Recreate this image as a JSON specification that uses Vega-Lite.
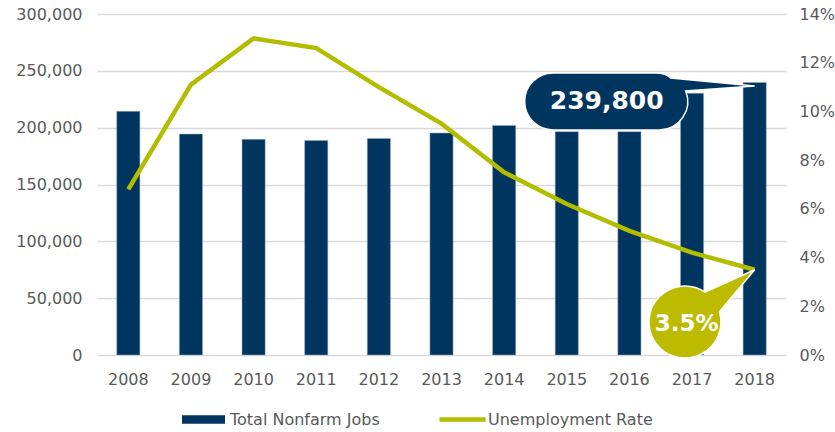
{
  "$schema": "https://vega.github.io/schema/vega-lite/v6.json",
  "width": 689,
  "height": 341,
  "autosize": "none",
  "padding": {"left": 97, "top": 14, "right": 49, "bottom": 77},
  "background": "#ffffff",
  "config": {
    "font": "DejaVu Sans",
    "view": {"stroke": null},
    "axis": {"labelFont": "DejaVu Sans", "labelColor": "#595959", "labelFontSize": 16, "title": null, "domain": false, "ticks": false},
    "legend": {"labelFont": "DejaVu Sans", "labelColor": "#595959", "labelFontSize": 16, "labelLimit": 400}
  },
  "data": {
    "values": [
      {"year": "2008", "jobs": 214400, "rate": 6.8},
      {"year": "2009", "jobs": 194400, "rate": 11.1},
      {"year": "2010", "jobs": 189700, "rate": 13.0},
      {"year": "2011", "jobs": 188800, "rate": 12.6},
      {"year": "2012", "jobs": 190500, "rate": 11.0},
      {"year": "2013", "jobs": 195300, "rate": 9.5},
      {"year": "2014", "jobs": 202000, "rate": 7.5},
      {"year": "2015", "jobs": 196500, "rate": 6.2},
      {"year": "2016", "jobs": 196500, "rate": 5.1},
      {"year": "2017", "jobs": 230200, "rate": 4.2},
      {"year": "2018", "jobs": 239800, "rate": 3.5}
    ]
  },
  "encoding": {
    "x": {
      "field": "year", "type": "ordinal",
      "scale": {"paddingInner": 0.63, "paddingOuter": 0.315},
      "axis": {"labelAngle": 0, "labelPadding": 16, "grid": false}
    }
  },
  "layer": [
    {
      "layer": [
        {
          "mark": {"type": "bar", "stroke": "#9fb0c4", "strokeWidth": 0.5},
          "encoding": {
            "y": {
              "field": "jobs", "type": "quantitative",
              "scale": {"domain": [0, 300000], "nice": false},
              "axis": {"orient": "left", "values": [0, 50000, 100000, 150000, 200000, 250000, 300000], "format": ",d", "labelPadding": 15, "grid": true, "gridColor": "#d9d9d9", "gridWidth": 1.5}
            },
            "color": {
              "datum": "Total Nonfarm Jobs", "type": "nominal",
              "scale": {"range": ["#00355f"]},
              "legend": {"title": null, "orient": "none", "legendX": 85, "legendY": 384, "symbolType": "M-1,-0.2H1V0.2H-1Z", "symbolSize": 1849, "symbolStrokeWidth": 0, "labelOffset": 5}
            }
          }
        },
        {
          "data": {"values": [{"year": "2018", "jobs": 239800, "label": "239,800"}]},
          "mark": {
            "type": "point", "filled": true, "opacity": 1, "size": 4, "yOffset": 3.5,
            "fill": "#00355f", "stroke": "#ffffff", "strokeWidth": 1.5,
            "shape": "M-201.5,-13L-100,-13Q-88,-13,-84,-8L0,0L-69,5A28.5,28.5,0,0,1,-95.5,44L-201.5,44A28.5,28.5,0,0,1,-201.5,-13Z"
          },
          "encoding": {
            "y": {
              "field": "jobs", "type": "quantitative",
              "axis": {"orient": "left", "values": [0, 50000, 100000, 150000, 200000, 250000, 300000], "format": ",d", "labelPadding": 15, "grid": true, "gridColor": "#d9d9d9", "gridWidth": 1.5}
            }
          }
        },
        {
          "data": {"values": [{"year": "2018", "jobs": 239800, "label": "239,800"}]},
          "mark": {"type": "text", "dx": -148, "dy": 19, "align": "center", "baseline": "middle", "font": "DejaVu Sans", "fontWeight": "bold", "fontSize": 25, "color": "#ffffff"},
          "encoding": {
            "y": {
              "field": "jobs", "type": "quantitative",
              "axis": {"orient": "left", "values": [0, 50000, 100000, 150000, 200000, 250000, 300000], "format": ",d", "labelPadding": 15, "grid": true, "gridColor": "#d9d9d9", "gridWidth": 1.5}
            },
            "text": {"field": "label"}
          }
        }
      ]
    },
    {
      "layer": [
        {
          "mark": {"type": "line", "strokeWidth": 4.5},
          "encoding": {
            "y": {
              "field": "rate", "type": "quantitative",
              "scale": {"domain": [0, 14], "nice": false},
              "axis": {"orient": "right", "values": [0, 2, 4, 6, 8, 10, 12, 14], "labelExpr": "datum.value + '%'", "labelPadding": 13, "grid": false}
            },
            "stroke": {
              "datum": "Unemployment Rate", "type": "nominal",
              "scale": {"range": ["#b3bd00"]},
              "legend": {"title": null, "orient": "none", "legendX": 340, "legendY": 380, "symbolType": "stroke", "symbolSize": 2116, "symbolStrokeWidth": 4.5, "labelOffset": 0}
            }
          }
        },
        {
          "data": {"values": [{"year": "2018", "rate": 3.5, "label": "3.5%"}]},
          "mark": {
            "type": "point", "filled": true, "opacity": 1, "size": 4,
            "fill": "#bcbb00", "stroke": "#ffffff", "strokeWidth": 1.5,
            "shape": "M0,0L-35.2,42A36,36,0,1,1,-49.6,22.4Z"
          },
          "encoding": {
            "y": {
              "field": "rate", "type": "quantitative",
              "axis": {"orient": "right", "values": [0, 2, 4, 6, 8, 10, 12, 14], "labelExpr": "datum.value + '%'", "labelPadding": 13, "grid": false}
            }
          }
        },
        {
          "data": {"values": [{"year": "2018", "rate": 3.5, "label": "3.5%"}]},
          "mark": {"type": "text", "dx": -68, "dy": 54, "align": "center", "baseline": "middle", "font": "DejaVu Sans", "fontWeight": "bold", "fontSize": 23, "color": "#ffffff"},
          "encoding": {
            "y": {
              "field": "rate", "type": "quantitative",
              "axis": {"orient": "right", "values": [0, 2, 4, 6, 8, 10, 12, 14], "labelExpr": "datum.value + '%'", "labelPadding": 13, "grid": false}
            },
            "text": {"field": "label"}
          }
        }
      ]
    }
  ],
  "resolve": {"scale": {"y": "independent"}}
}
